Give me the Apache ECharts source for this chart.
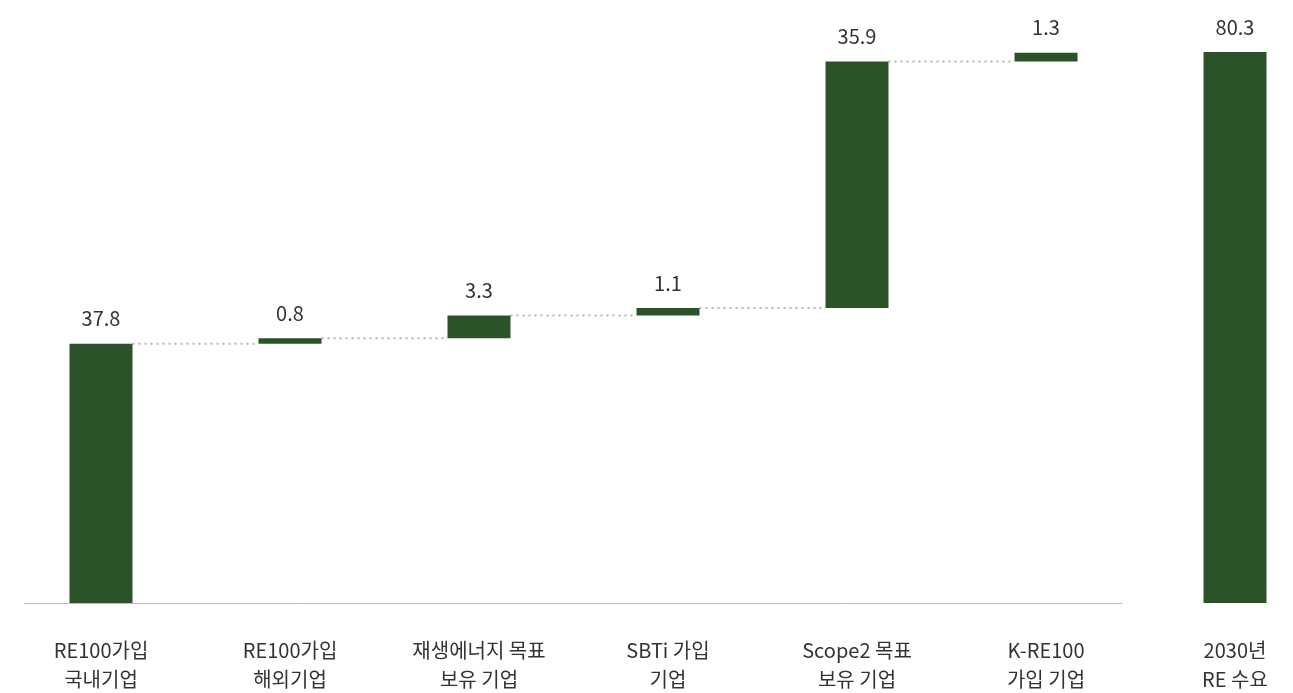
<!DOCTYPE html>
<html>
<head>
<meta charset="utf-8">
<script src="https://cdn.jsdelivr.net/npm/echarts@6/dist/echarts.min.js"></script>
<style>
  html, body { margin: 0; padding: 0; background: #fff; }
  #chart { width: 1293px; height: 693px; }
</style>
</head>
<body>
<div id="chart"></div>
<script>
// data
const categories = ['RE100가입\n국내기업', 'RE100가입\n해외기업', '재생에너지 목표\n보유 기업', 'SBTi 가입\n기업', 'Scope2 목표\n보유 기업', 'K-RE100\n가입 기업', '2030년\nRE 수요'];
const increments = [37.8, 0.8, 3.3, 1.1, 35.9, 1.3];
const total = 80.3;

const barColor = '#2b5229';
const textColor = '#333';
const fontFamily = '"Noto Sans CJK KR", "Noto Sans", sans-serif';
const barWidth = 63;

// invisible base + visible step for each bar
const baseData = [];
const stepData = [];
const connectors = [];
let cum = 0;
increments.forEach((v, i) => {
  baseData.push(cum);
  stepData.push(v);
  cum += v;
  if (i < increments.length - 1) connectors.push([i, cum]);
});
baseData.push(0);
stepData.push(total);

const chart = echarts.init(document.getElementById('chart'));
const option = {
  animation: false,
  textStyle: { fontFamily },
  grid: {
    left: 6.5,
    right: -36.5,
    top: 52,
    bottom: 90,
    outerBoundsMode: 'none'
  },
  xAxis: {
    type: 'category',
    data: categories,
    axisLine: { show: false },
    axisTick: { show: false },
    axisLabel: {
      interval: 0,
      margin: 33,
      fontSize: 20,
      lineHeight: 29,
      color: textColor,
      fontFamily
    }
  },
  yAxis: {
    type: 'value',
    min: 0,
    max: total,
    show: false,
    splitLine: { show: false }
  },
  series: [
    {
      name: 'base',
      type: 'bar',
      stack: 'wf',
      data: baseData,
      barWidth,
      itemStyle: { color: 'transparent' },
      silent: true
    },
    {
      name: 'value',
      type: 'bar',
      stack: 'wf',
      data: stepData,
      barWidth,
      itemStyle: { color: barColor },
      label: {
        show: true,
        position: 'top',
        distance: 15,
        fontSize: 20,
        color: textColor,
        fontFamily,
        formatter: (p) => p.value.toFixed(1)
      }
    },
    {
      // dotted connectors between steps
      name: 'connector',
      type: 'custom',
      data: connectors,
      encode: { x: 0, y: 1 },
      silent: true,
      z: 1,
      renderItem: (params, api) => {
        const i = api.value(0);
        const level = api.value(1);
        const p1 = api.coord([i, level]);
        const p2 = api.coord([i + 1, level]);
        return {
          type: 'line',
          shape: { x1: p1[0] + barWidth / 2, y1: p1[1], x2: p2[0] - barWidth / 2, y2: p2[1] },
          style: { stroke: '#b3b3b3', lineWidth: 2, lineDash: [2, 4] }
        };
      }
    },
    {
      // baseline under the first six bars
      name: 'baseline',
      type: 'custom',
      data: [[0, 0]],
      encode: { x: 0, y: 1 },
      silent: true,
      z: 3,
      renderItem: (params, api) => {
        const a = api.coord([0, 0]);
        const b = api.coord([5, 0]);
        return {
          type: 'line',
          shape: { x1: a[0] - 77, y1: a[1] + 0.5, x2: b[0] + 76, y2: b[1] + 0.5 },
          style: { stroke: '#bdbdbd', lineWidth: 1 }
        };
      }
    }
  ]
};
chart.setOption(option);
window.addEventListener('resize', () => chart.resize());
</script>
</body>
</html>
